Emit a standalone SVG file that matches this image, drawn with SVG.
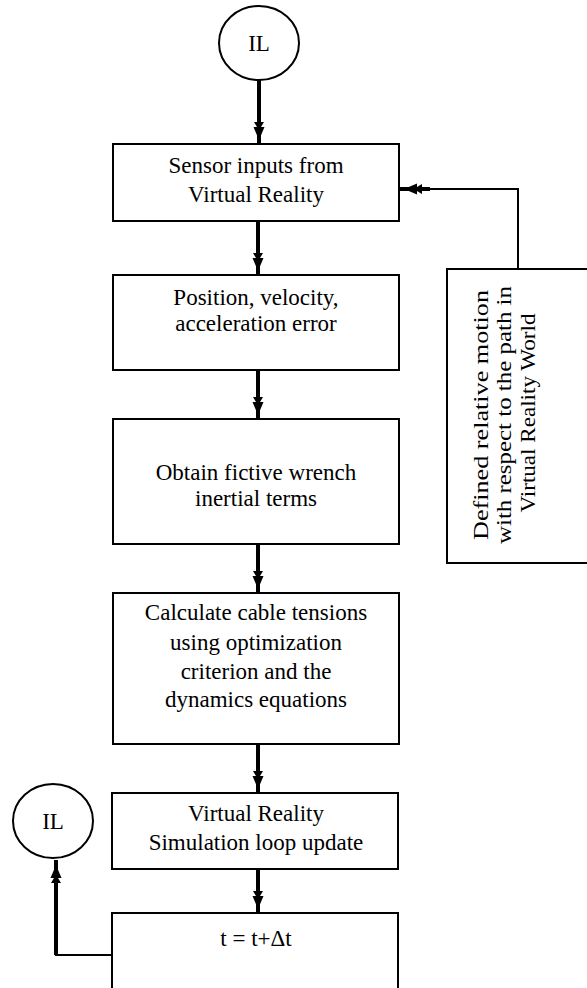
<svg xmlns="http://www.w3.org/2000/svg" width="587" height="988" viewBox="0 0 587 988">
<style>
.box{fill:#fff;stroke:#000;stroke-width:2}
.circ{fill:#fff;stroke:#000;stroke-width:2}
.t{font-family:"Liberation Serif","Times New Roman",serif;font-size:23px;fill:#000;text-anchor:middle}
.r{font-family:"Liberation Serif","Times New Roman",serif;font-size:22px;fill:#000;text-anchor:middle}
.c{fill:none;stroke:#000;stroke-width:4}
.c2{fill:none;stroke:#000;stroke-width:2}
</style>
<defs>
<marker id="ah" viewBox="0 0 18 12" refX="17" refY="6" markerWidth="18" markerHeight="12" markerUnits="userSpaceOnUse" orient="auto">
<path d="M0,1 L5,4 L5,0.5 L18,6 L5,11.5 L5,8 L0,11 Z" fill="#000"/>
</marker>
</defs>
<rect width="587" height="988" fill="#fff"/>
<g id="connectors">
<path class="c" d="M259 80 L259 139 L259 144" marker-mid="url(#ah)"/>
<path class="c" d="M258 221 L258 270 L258 275" marker-mid="url(#ah)"/>
<path class="c" d="M258 370 L258 414 L258 419" marker-mid="url(#ah)"/>
<path class="c" d="M258 544 L258 588 L258 593" marker-mid="url(#ah)"/>
<path class="c" d="M258 744 L258 788 L258 793" marker-mid="url(#ah)"/>
<path class="c" d="M258 869 L258 908 L258 913" marker-mid="url(#ah)"/>
<path class="c2" d="M518 269 L518 189 L430 189"/>
<path class="c" d="M430 189 L405 189 L400 189" marker-mid="url(#ah)"/>
<path class="c2" d="M112 955 L56 955 L56 900"/>
<path class="c" d="M56 955 L56 866 L56 860" marker-mid="url(#ah)"/>
</g>
<g id="il-top">
<ellipse class="circ" cx="259" cy="43" rx="40" ry="37"/>
<text class="t" x="259" y="51">IL</text>
</g>
<g id="sensor">
<rect class="box" x="113" y="144" width="286" height="77"/>
<text class="t" x="256" y="173">Sensor inputs from</text>
<text class="t" x="256" y="202">Virtual Reality</text>
</g>
<g id="error">
<rect class="box" x="113" y="275" width="286" height="95"/>
<text class="t" x="256" y="305">Position, velocity,</text>
<text class="t" x="256" y="331">acceleration error</text>
</g>
<g id="wrench">
<rect class="box" x="113" y="419" width="286" height="125"/>
<text class="t" x="256" y="480">Obtain fictive wrench</text>
<text class="t" x="256" y="506">inertial terms</text>
</g>
<g id="tensions">
<rect class="box" x="113" y="593" width="286" height="151"/>
<text class="t" x="256" y="620">Calculate cable tensions</text>
<text class="t" x="256" y="650">using optimization</text>
<text class="t" x="256" y="679">criterion and the</text>
<text class="t" x="256" y="707">dynamics equations</text>
</g>
<g id="simloop">
<rect class="box" x="112" y="793" width="286" height="76"/>
<text class="t" x="256" y="821">Virtual Reality</text>
<text class="t" x="256" y="850">Simulation loop update</text>
</g>
<g id="timestep">
<rect class="box" x="112" y="913" width="286" height="80"/>
<text class="t" x="256" y="946">t = t+Δt</text>
</g>
<g id="motion">
<rect class="box" x="447" y="269" width="141" height="294"/>
<text class="r" transform="translate(488,415) rotate(-90)" textLength="250" lengthAdjust="spacingAndGlyphs">Defined relative motion</text>
<text class="r" transform="translate(511,415) rotate(-90)" textLength="258" lengthAdjust="spacingAndGlyphs">with respect to the path in</text>
<text class="r" transform="translate(535,413) rotate(-90)" textLength="199" lengthAdjust="spacingAndGlyphs">Virtual Reality World</text>
</g>
<g id="il-bottom">
<ellipse class="circ" cx="53" cy="821" rx="40" ry="37"/>
<text class="t" x="53" y="829">IL</text>
</g>
</svg>
